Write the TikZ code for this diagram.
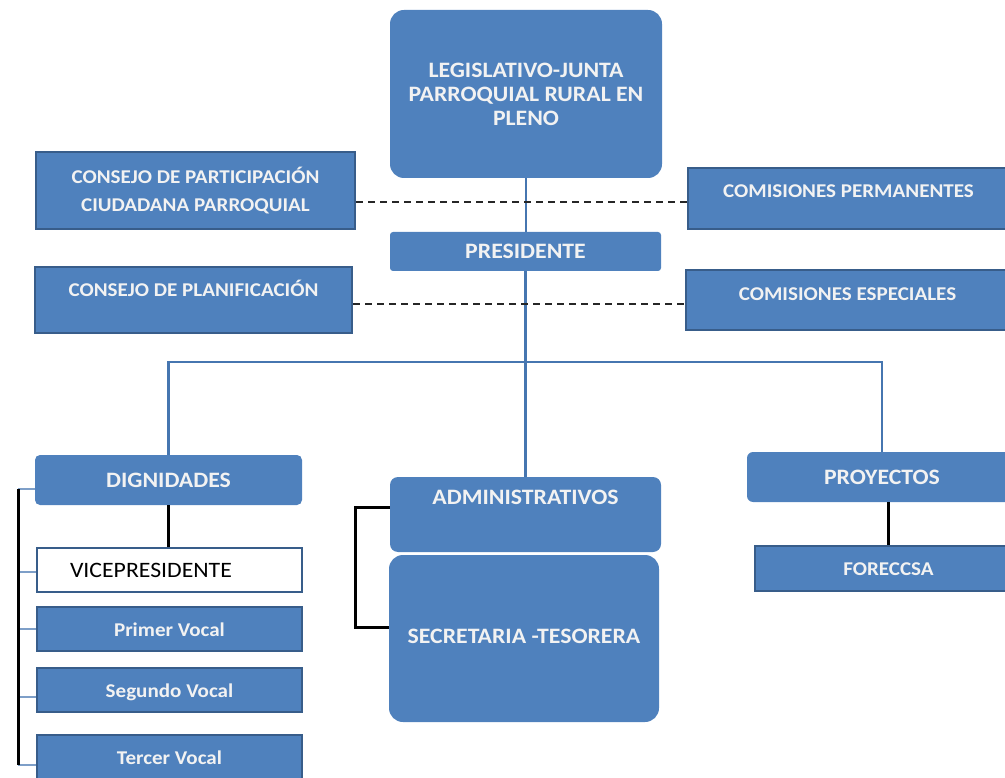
\documentclass[tikz,border=0pt]{standalone}
\usepackage{fontspec}
\setmainfont{Carlito}[FakeStretch=1.08]
\usetikzlibrary{positioning}
\definecolor{boxblue}{RGB}{79,129,189}
\definecolor{edgeblue}{RGB}{56,93,138}
\definecolor{linkblue}{RGB}{70,118,176}

\begin{document}
\begin{tikzpicture}[x=1pt, y=-1pt,
    bigtext/.style={font=\fontsize{22}{24}\selectfont\bfseries},
    smalltext/.style={font=\fontsize{19.5}{28}\selectfont\bfseries},
    unitbox/.style={rectangle, fill=boxblue, text=white!95!black, inner sep=0pt, align=center, bigtext},
    borderbox/.style={rectangle, fill=boxblue, draw=edgeblue, line width=2pt, text=white!95!black, inner sep=0pt, align=center, smalltext},
    link/.style={draw=linkblue, line width=2.2pt},
    thinlink/.style={draw=linkblue!70, line width=1.2pt},
    bar/.style={draw=black, line width=3pt},
    dashlink/.style={draw=black!85, line width=2pt, dash pattern=on 7pt off 5pt}
    ]
    \clip (0,0) rectangle (1005,778);
    % Nodes
    \node[unitbox, rounded corners=14, minimum width=272, minimum height=168] (LEG) at (526,94) {LEGISLATIVO-JUNTA\\PARROQUIAL RURAL EN\\PLENO};
    \node[borderbox, minimum width=319, minimum height=77] (CPC) at (195.5,190.5) {CONSEJO DE PARTICIPACIÓN\\CIUDADANA PARROQUIAL};
    \node[borderbox, minimum width=321, minimum height=61, text height=14, text depth=16] (CPM) at (848.5,198.5) {COMISIONES PERMANENTES};
    \node[unitbox, rounded corners=3, minimum width=271, minimum height=39, text height=14, text depth=0] (PRES) at (525.5,251.5) {PRESIDENTE};
    \node[borderbox, minimum width=317, minimum height=66, text height=14, text depth=21] (CPL) at (193.5,300) {CONSEJO DE PLANIFICACIÓN};
    \node[borderbox, minimum width=323, minimum height=60, text height=14, text depth=13] (CES) at (847.5,300) {COMISIONES ESPECIALES};
    \node[unitbox, rounded corners=5, minimum width=267, minimum height=50, text height=14, text depth=0] (DIG) at (168.5,480) {DIGNIDADES};
    \node[borderbox, bigtext, fill=white, text=black, minimum width=265, minimum height=44, text width=265, align=left, text height=14, text depth=0] (VICE) at (169.5,570) {\hspace*{33pt}\mdseries VICEPRESIDENTE};
    \node[borderbox, minimum width=265, minimum height=44, text height=14, text depth=0] (PV) at (169.5,629) {Primer Vocal};
    \node[borderbox, minimum width=265, minimum height=44, text height=14, text depth=0] (SV) at (169.5,690) {Segundo Vocal};
    \node[borderbox, minimum width=265, minimum height=44, text height=14, text depth=0] (TV) at (169.5,757) {Tercer Vocal};
    \node[unitbox, rounded corners=8, minimum width=271, minimum height=75, text height=14, text depth=35] (ADM) at (525.5,514.5) {ADMINISTRATIVOS};
    \node[unitbox, rounded corners=14, minimum width=270, minimum height=167, text height=14, text depth=5] (SEC) at (524,638.5) {SECRETARIA -TESORERA};
    \node[unitbox, rounded corners=6, minimum width=270, minimum height=50, text height=14, text depth=0] (PROY) at (882,477) {PROYECTOS};
    \node[borderbox, minimum width=267, minimum height=45, text height=14, text depth=0] (FOR) at (888.5,568.5) {FORECCSA};
    \coordinate (hub) at (525.5,362);
    \coordinate (rail) at (18,0);
    % Edges
    \draw[link] (LEG.south) -- (LEG.south |- PRES.north);
    \draw[link] (PRES.south) -- (ADM.north);
    \draw[link] (DIG.north) |- (hub) -| (PROY.north);
    \draw[dashlink] (CPC.east |- 0,202) -- (CPM.west |- 0,202);
    \draw[dashlink] (CPL.east |- 0,304) -- (CES.west |- 0,304);
    \draw[bar] (DIG.south) -- (DIG.south |- VICE.north);
    \draw[bar] (PROY.south -| FOR.north) -- (FOR.north);
    \draw[bar] (ADM.west |- 0,507) -- (355,507) -- (355,627) -- (SEC.west |- 0,627);
    \foreach \n/\y in {DIG/489, VICE/572, PV/629, SV/697, TV/765}
        \draw[thinlink] (rail |- 0,\y) -- (\n.west |- 0,\y);
    \draw[bar] (rail |- 0,489) -- (rail |- 0,765);
\end{tikzpicture}
\end{document}
